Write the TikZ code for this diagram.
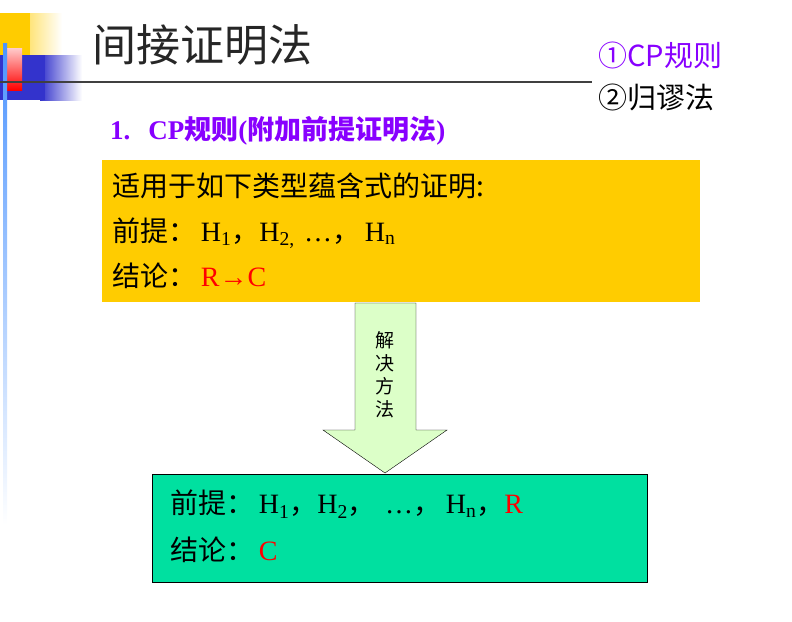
\documentclass[tikz,border=0pt]{standalone}
\usepackage{fontspec}
\setmainfont{Liberation Serif}
\newfontfamily\cjk{Noto Sans CJK SC}
\definecolor{ylw}{RGB}{255,204,0}
\definecolor{blu}{RGB}{51,51,204}
\definecolor{grn}{RGB}{0,224,160}
\definecolor{arw}{RGB}{220,255,200}
\definecolor{purp}{RGB}{136,0,255}
\tikzset{txt/.style={anchor=west,inner sep=0pt,font=\fontsize{28}{32}\selectfont}}
\begin{document}
\begin{tikzpicture}[x=1pt,y=-1pt]
\useasboundingbox (0,0) rectangle (792,621);
% decoration
\shade[left color=ylw,right color=white] (0,13) rectangle (62,55);
\fill[ylw] (0,13) rectangle (30,55);
\shade[left color=blu,right color=white] (40,55) rectangle (82,100);
\fill[blu] (0,55) rectangle (45,100);
\shade[top color=red!20,bottom color=red] (3,48) rectangle (22,90);
\shade[top color=blue!60!cyan!70,bottom color=white] (3,43) rectangle (7,525);
\draw[line width=2pt,black!75] (0,82) -- (592,82);
% title
\node[anchor=west,inner sep=0pt,font=\cjk\fontsize{44}{48}\selectfont,text=black!85] (title) at (92,45) {间接证明法};
\node[anchor=west,inner sep=0pt,font=\cjk\fontsize{29}{32}\selectfont,text=purp] (r1) at (598,55) {①CP规则};
\node[anchor=west,inner sep=0pt,font=\cjk\fontsize{29}{32}\selectfont] (r2) at (598,97) {②归谬法};
\node[anchor=west,inner sep=0pt,font=\bfseries\fontsize{27}{30}\selectfont,text=purp] (h) at (110,131) {1.\hspace{18pt}CP{\cjk 规则}({\cjk 附加前提证明法})};
% yellow box
\node[fill=ylw,minimum width=598,minimum height=142,anchor=north west,inner sep=0pt] (yb) at (102,160) {};
\node[txt] (y1) at (112,186) {\cjk 适用于如下类型蕴含式的证明:};
\node[txt] (y2) at (112,233) {{\cjk 前提：}\,H\textsubscript{1}{\cjk ，}H\textsubscript{2,}\,\,…{\cjk ，}\,H\textsubscript{n}};
\node[txt] (y3) at (112,276) {{\cjk 结论：}\,\textcolor{red}{R→C}};
% arrow
\draw[black,fill=arw] (355,303) -- (416,303) -- (416,430) -- (447,430) -- (385,473) -- (323,430) -- (355,430) -- cycle;
\node[font=\cjk\fontsize{19}{23}\selectfont,align=center] (ar) at (385,375) {解\\决\\方\\法};
% green box
\node[draw=black,line width=1pt,fill=grn,minimum width=495,minimum height=108,anchor=north west,inner sep=0pt] (gb) at (152,474) {};
\node[txt] (g1) at (170,504) {{\cjk 前提：}\,H\textsubscript{1}{\cjk ，}H\textsubscript{2}{\cjk ，}\,\,…{\cjk ，}\,H\textsubscript{n}{\cjk ，}\textcolor{red}{R}};
\node[txt] (g2) at (170,550) {{\cjk 结论：}\,\textcolor{red}{C}};
\end{tikzpicture}
\end{document}
